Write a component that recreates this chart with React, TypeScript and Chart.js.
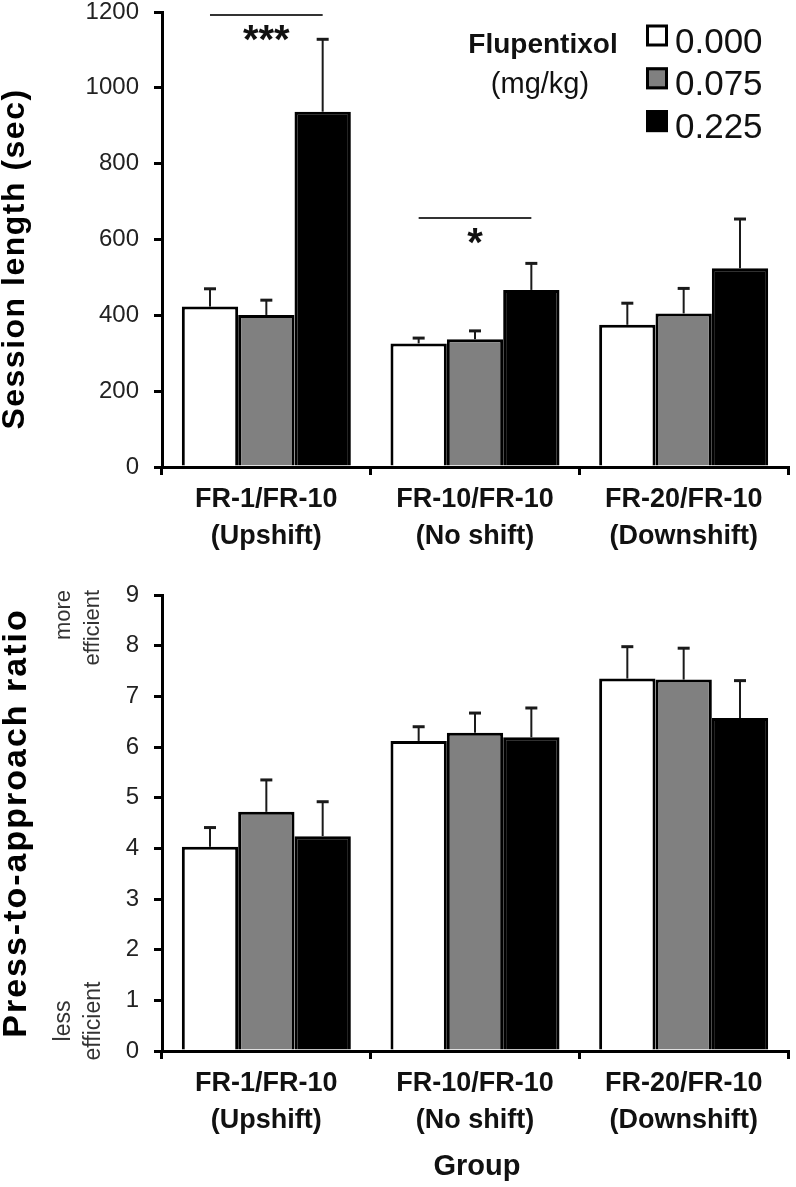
import React, { useEffect, useRef } from 'react';
import { Chart, registerables } from 'chart.js';

Chart.register(...registerables);

const FONT = "'Liberation Sans', Arial, Helvetica, sans-serif";

const groupNames = ['FR-1/FR-10', 'FR-10/FR-10', 'FR-20/FR-10'];
const groupShifts = ['(Upshift)', '(No shift)', '(Downshift)'];
const doseLabels = ['0.000', '0.075', '0.225'];
const doseColors = ['#ffffff', '#808080', '#000000'];

// Top panel: session length (sec), mean and SEM
const sessionDose000 = [423, 326, 375];
const sessionDose075 = [401, 337, 405];
const sessionDose225 = [937, 467, 524];
const sessionSem000 = [47, 14, 57];
const sessionSem075 = [39, 22, 66];
const sessionSem225 = [191, 70, 130];
const sessionMax = 1200;
const sessionStep = 200;

// Significance brackets for top panel
const sigGroups = [0, 1];
const sigValues = [1192, 657];
const sigLabels = ['***', '*'];

// Bottom panel: press-to-approach ratio, mean and SEM
const ratioDose000 = [4.03, 6.12, 7.35];
const ratioDose075 = [4.72, 6.28, 7.33];
const ratioDose225 = [4.24, 6.19, 6.57];
const ratioSem000 = [0.38, 0.28, 0.63];
const ratioSem075 = [0.63, 0.39, 0.62];
const ratioSem225 = [0.68, 0.58, 0.74];
const ratioMax = 9;
const ratioStep = 1;

const categoryLabels = groupNames.map((n, i) => [n, groupShifts[i]]);

function makeDatasets(means: number[][], sems: number[][]) {
  return means.map((m, i) => ({
    label: doseLabels[i],
    data: m,
    sem: sems[i],
    backgroundColor: doseColors[i],
    borderColor: '#000000',
    borderWidth: 3,
    borderSkipped: 'bottom',
    barPercentage: 1,
    categoryPercentage: 0.81,
  }));
}

const errorBarPlugin = {
  id: 'errorBars',
  afterDatasetsDraw(chart: any) {
    const ctx = chart.ctx;
    const y = chart.scales.y;
    chart.data.datasets.forEach((ds: any, i: number) => {
      const meta = chart.getDatasetMeta(i);
      meta.data.forEach((bar: any, j: number) => {
        const topPx = y.getPixelForValue(ds.data[j] + ds.sem[j]);
        const basePx = y.getPixelForValue(ds.data[j]);
        ctx.save();
        ctx.strokeStyle = '#1a1a1a';
        ctx.lineWidth = 2;
        ctx.beginPath();
        ctx.moveTo(bar.x, basePx);
        ctx.lineTo(bar.x, topPx);
        ctx.stroke();
        ctx.lineWidth = 3;
        ctx.beginPath();
        ctx.moveTo(bar.x - 6, topPx);
        ctx.lineTo(bar.x + 6, topPx);
        ctx.stroke();
        ctx.restore();
      });
    });
  },
};

function rotatedText(ctx: any, text: string, x: number, y: number, font: string, align: string, spacing = '0px', color = '#000') {
  ctx.save();
  ctx.translate(x, y);
  ctx.rotate(-Math.PI / 2);
  ctx.font = font;
  try { ctx.letterSpacing = spacing; } catch (e) {}
  ctx.fillStyle = color;
  ctx.textAlign = align;
  ctx.textBaseline = 'alphabetic';
  ctx.fillText(text, 0, 0);
  ctx.restore();
}

const topAnnotations = {
  id: 'topAnnotations',
  afterDraw(chart: any) {
    const ctx = chart.ctx;
    const y = chart.scales.y;
    ctx.save();
    ctx.translate(15, 259);
    ctx.rotate(-Math.PI / 2);
    ctx.font = `bold 32px ${FONT}`;
    try { ctx.letterSpacing = '1.5px'; } catch (e) {}
    ctx.fillStyle = '#000';
    ctx.textAlign = 'center';
    ctx.textBaseline = 'middle';
    ctx.fillText('Session length (sec)', 0, 0);
    ctx.restore();

    ctx.save();
    ctx.fillStyle = '#111';
    ctx.textAlign = 'center';
    ctx.textBaseline = 'alphabetic';
    ctx.font = `bold 28px ${FONT}`;
    ctx.fillText('Flupentixol', 543, 53);
    ctx.font = `29px ${FONT}`;
    ctx.fillText('(mg/kg)', 540, 93);
    doseLabels.forEach((lab, i) => {
      const cy = 35.5 + 42.8 * i;
      ctx.fillStyle = doseColors[i];
      ctx.fillRect(646, cy - 11, 22, 22);
      ctx.strokeStyle = '#000';
      ctx.lineWidth = 3;
      ctx.strokeRect(647.5, cy - 9.5, 19, 19);
      ctx.fillStyle = '#111';
      ctx.font = `35px ${FONT}`;
      ctx.textAlign = 'left';
      ctx.fillText(lab, 675, 52.5 + 42.8 * i);
    });
    ctx.restore();

    sigGroups.forEach((g, k) => {
      const first = chart.getDatasetMeta(0).data[g];
      const last = chart.getDatasetMeta(2).data[g];
      const py = y.getPixelForValue(sigValues[k]);
      ctx.save();
      ctx.strokeStyle = '#333';
      ctx.lineWidth = 2;
      ctx.beginPath();
      ctx.moveTo(first.x, py);
      ctx.lineTo(last.x, py);
      ctx.stroke();
      ctx.fillStyle = '#111';
      ctx.font = `bold 40px ${FONT}`;
      ctx.textAlign = 'center';
      ctx.textBaseline = 'alphabetic';
      ctx.fillText(sigLabels[k], (first.x + last.x) / 2, py + 38);
      ctx.restore();
    });
  },
};

const bottomAnnotations = {
  id: 'bottomAnnotations',
  afterDraw(chart: any) {
    const ctx = chart.ctx;
    const area = chart.chartArea;
    ctx.save();
    ctx.translate(17, 243);
    ctx.rotate(-Math.PI / 2);
    ctx.font = `bold 34px ${FONT}`;
    try { ctx.letterSpacing = '2px'; } catch (e) {}
    ctx.fillStyle = '#000';
    ctx.textAlign = 'center';
    ctx.textBaseline = 'middle';
    ctx.fillText('Press-to-approach ratio', 0, 0);
    ctx.restore();

    rotatedText(ctx, 'more', 70, 10, `22px ${FONT}`, 'right', '0px', '#333');
    rotatedText(ctx, 'efficient', 99, 10, `22px ${FONT}`, 'right', '0px', '#333');
    rotatedText(ctx, 'less', 70, 441, `23px ${FONT}`, 'center', '0px', '#333');
    rotatedText(ctx, 'efficient', 100, 441, `23px ${FONT}`, 'center', '0px', '#333');

    ctx.save();
    ctx.fillStyle = '#111';
    ctx.font = `bold 29px ${FONT}`;
    ctx.textAlign = 'center';
    ctx.textBaseline = 'alphabetic';
    ctx.fillText('Group', (area.left + area.right) / 2 + 2, 595);
    ctx.restore();
  },
};

function makeOptions(max: number, step: number, padTop: number, xHeight: number) {
  return {
    responsive: false,
    animation: false,
    layout: { padding: { left: 0, right: 8, top: padTop, bottom: 0 } },
    plugins: { legend: { display: false }, tooltip: { enabled: false } },
    scales: {
      x: {
        offset: true,
        grid: { display: true, drawOnChartArea: false, drawTicks: true, tickLength: 8, lineWidth: 3, color: '#000', offset: true },
        border: { display: true, width: 3, color: '#000' },
        ticks: {
          font: { family: FONT, size: 27, weight: 'bold', lineHeight: 1.37 },
          color: '#111',
          padding: 6,
          maxRotation: 0,
          autoSkip: false,
        },
        afterFit: (s: any) => { s.height = xHeight; s.paddingLeft = 0; s.paddingRight = 0; },
      },
      y: {
        min: 0,
        max,
        ticks: {
          stepSize: step,
          font: { family: FONT, size: 24, lineHeight: 1 },
          color: '#222',
          padding: 15,
          callback: (v: any) => String(v),
        },
        grid: { display: true, drawOnChartArea: false, drawTicks: true, tickLength: 8, lineWidth: 3, color: '#000' },
        border: { display: true, width: 3, color: '#000' },
        afterFit: (s: any) => { s.width = 162; s.paddingTop = 0; s.paddingBottom = 0; },
      },
    },
  };
}

export default function App() {
  const topRef = useRef<HTMLCanvasElement>(null);
  const bottomRef = useRef<HTMLCanvasElement>(null);

  useEffect(() => {
    const top = new Chart(topRef.current as HTMLCanvasElement, {
      type: 'bar',
      data: {
        labels: categoryLabels,
        datasets: makeDatasets(
          [sessionDose000, sessionDose075, sessionDose225],
          [sessionSem000, sessionSem075, sessionSem225]
        ) as any,
      },
      options: makeOptions(sessionMax, sessionStep, 12, 113) as any,
      plugins: [errorBarPlugin, topAnnotations],
    });
    const bottom = new Chart(bottomRef.current as HTMLCanvasElement, {
      type: 'bar',
      data: {
        labels: categoryLabels,
        datasets: makeDatasets(
          [ratioDose000, ratioDose075, ratioDose225],
          [ratioSem000, ratioSem075, ratioSem225]
        ) as any,
      },
      options: makeOptions(ratioMax, ratioStep, 15, 136) as any,
      plugins: [errorBarPlugin, bottomAnnotations],
    });
    return () => {
      top.destroy();
      bottom.destroy();
    };
  }, []);

  return (
    <div style={{ position: 'absolute', left: 0, top: 0, width: 796, height: 1187, background: '#fff' }}>
      <canvas ref={topRef} width={796} height={580} style={{ position: 'absolute', left: 0, top: 0, width: 796, height: 580 }} />
      <canvas ref={bottomRef} width={796} height={607} style={{ position: 'absolute', left: 0, top: 580, width: 796, height: 607 }} />
    </div>
  );
}
